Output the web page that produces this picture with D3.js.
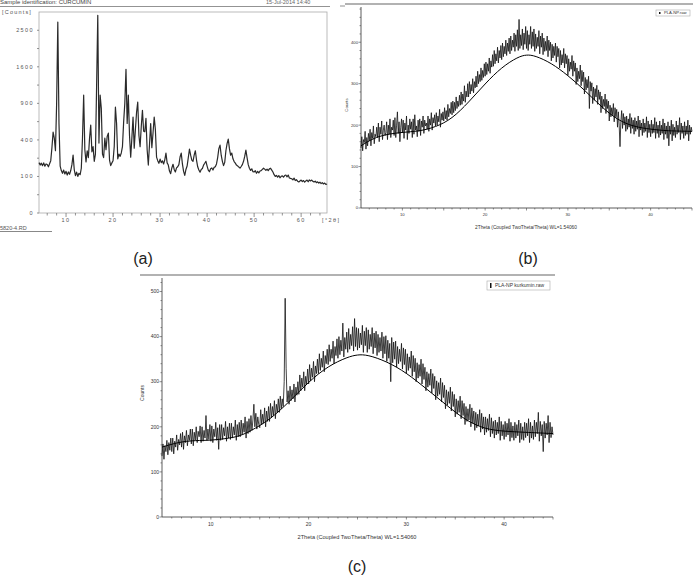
<!DOCTYPE html>
<html>
<head>
<meta charset="utf-8">
<script src="https://cdn.jsdelivr.net/npm/d3@7"></script>
<style>
  body { margin: 0; background: #fff; }
  text { font-family: "Liberation Sans", Arial, sans-serif; }
</style>
</head>
<body>
<script>
// ---- panel (a): curcumin, sqrt counts, step 0.25 deg from 4.25
var curcStart = 4.25, curcStep = 0.25;
var curcCounts = [
  190, 172, 186,
  168, 188, 164, 180,  176, 160, 182, 205,  320, 490, 420, 290,  900, 2730, 600, 165,
  135, 118, 138, 114,  130, 108, 126, 112,  135, 175, 251, 140,  104, 125, 100, 118,
  110, 150, 420, 1040, 300, 195, 290, 230,  420, 578, 280, 330,  200, 260, 1200, 2927,
  366, 1040, 820, 260, 230, 420, 300, 440,  478, 210, 168, 188,  205, 330, 839, 600,
  220, 260, 240, 270,  330, 618, 900, 1547, 600, 1040, 450, 234, 420, 690, 315, 520,
  760, 920, 450, 330,  560, 790, 500, 494,  670, 300, 172, 350,  600, 320, 480, 690,
  520, 234, 205, 185,  218, 190, 204, 180,  212, 269, 188, 172,  132, 116, 152, 178,
  142, 126, 152, 160,  175, 235, 269, 180,  130, 106, 142, 165,  230, 306, 250, 210,
  200, 250, 290, 210,  160, 138, 125, 142,  148, 172, 185, 200,  165, 138, 128, 146,
  152, 138, 156, 160,  180, 230, 310, 345,  250, 200, 168, 192,  290, 360, 409, 310,
  250, 269, 220, 198,  186, 172, 166, 158,  151, 162, 175, 200,  240, 296, 230, 175,
  150, 136, 146, 128,  126, 134, 118, 130,  120, 132, 134, 142,  150, 144, 136, 144,
  134, 146, 150, 138,  126, 110, 100, 106,  96, 105, 93, 101,   103, 96, 105, 108,
  98, 108, 92, 90,     88, 82, 91, 79,     83, 76, 72, 77,     81, 74, 79, 71,
  77, 81, 73, 82,      77, 81, 75, 72,     76, 69, 73, 67,     71, 65, 69, 63,
  67, 61, 63
];
var curcYTicks = [0, 100, 400, 900, 1600, 2500];
var curcYMinor = [25, 225, 625, 1225, 2025];
var curcXTicks = [10, 20, 30, 40, 50, 60];

// ---- panel (b): PLA-NP, step 0.1 deg from 5 (one row per degree)
var plaStart = 5, plaStep = 0.1;
var plaCounts = [
  145,172,138,165,158,185,142,170,150,180,
  162,190,150,182,168,198,155,178,172,195,
  170,205,160,195,178,210,165,188,200,175,
  182,208,165,200,178,215,170,195,188,212,
  175,218,170,200,232,180,208,160,195,215,
  182,212,168,205,188,222,165,200,180,215,
  190,208,170,215,178,225,188,198,172,212,
  185,215,175,210,195,222,180,212,198,205,
  190,222,185,215,200,230,188,218,205,225,
  198,230,200,222,208,238,195,228,212,232,
  210,242,215,235,212,250,220,240,228,255,
  225,258,230,255,235,268,240,258,245,272,
  248,280,250,275,258,295,255,282,268,300,
  268,305,275,298,282,312,278,305,290,318,
  292,330,300,322,305,338,308,332,315,348,
  318,352,322,348,330,362,325,355,340,370,
  342,380,348,372,355,388,350,380,362,392,
  358,398,365,390,372,405,368,398,378,410,
  372,415,380,405,388,422,378,418,390,430,
  380,455,385,418,392,432,382,422,395,438,
  385,428,380,418,395,438,385,425,390,432,
  378,420,385,412,390,428,372,415,388,422,
  370,410,378,402,380,415,365,405,380,400,
  355,395,362,390,368,398,352,390,365,385,
  338,380,345,370,350,385,338,372,348,368,
  320,360,330,352,335,368,318,355,330,350,
  298,338,305,330,312,345,295,332,305,328,
  275,315,285,310,290,318,240,305,282,302,
  252,292,260,288,268,296,250,285,262,280,
  230,270,240,262,245,275,228,262,240,258,
  210,248,220,242,225,252,208,242,220,238,
  195,232,200,148,208,235,192,228,200,220,
  185,222,190,215,195,228,180,218,192,212,
  178,218,185,210,190,222,172,212,188,205,
  175,215,182,205,185,220,170,210,182,202,
  172,212,180,202,182,218,168,208,180,200,
  170,210,176,200,180,215,165,205,178,198,
  168,208,150,198,178,212,162,202,175,195,
  170,210,178,200,182,218,165,205,180,198,
  168,208,175,198,178,212,162,200,178,195,
  185
];
var plaFitX = [5, 7, 10, 12, 14, 16, 18, 20, 22, 24, 25, 26, 28, 30, 32, 34, 36, 38, 40, 42, 45];
var plaFitY = [150, 175, 183, 185, 195, 215, 255, 300, 340, 365, 370, 368, 350, 320, 285, 245, 212, 196, 190, 186, 185];

// ---- panel (c): PLA-NP kurkumin, step 0.1 deg from 5
var kurStart = 5, kurStep = 0.1;
var kurCounts = [
  135,162,128,158,145,170,138,165,148,175,
  145,175,140,168,155,182,148,172,160,185,
  155,188,150,180,165,192,158,182,170,195,
  162,195,158,188,170,200,165,190,178,202,
  165,200,168,192,175,225,170,195,172,205,
  168,202,165,195,178,210,170,198,150,205,
  170,205,172,198,180,212,168,200,175,208,
  172,208,175,200,182,215,170,205,178,210,
  178,215,182,208,188,222,175,212,185,218,
  188,225,192,215,250,200,230,195,222,205,
  198,238,205,228,208,242,200,235,212,245,
  212,252,220,245,225,258,218,250,232,262,
  232,268,240,262,245,300,485,330,255,280,
  250,290,258,282,262,295,255,288,270,300,
  272,315,280,308,288,322,280,312,295,328,
  295,338,302,330,310,345,300,335,318,350,
  318,362,325,352,332,368,322,358,340,372,
  338,382,345,372,352,390,340,378,358,395,
  352,400,360,392,368,430,355,398,372,410,
  365,418,372,405,380,422,368,440,378,420,
  370,418,375,408,382,425,365,412,380,420,
  365,415,372,405,378,420,362,408,375,412,
  358,405,365,398,368,410,352,400,362,402,
  345,392,352,385,300,398,342,388,350,390,
  332,378,340,372,345,385,328,375,338,372,
  318,362,325,355,330,368,312,358,322,352,
  300,342,308,338,312,350,295,340,305,332,
  280,322,288,318,292,328,275,318,285,312,
  260,302,268,298,272,308,255,298,265,292,
  240,282,248,278,252,288,235,278,245,272,
  222,262,228,258,232,268,218,258,225,252,
  205,245,212,240,215,250,200,242,208,235,
  192,232,198,228,202,238,188,230,195,222,
  182,222,188,218,192,228,178,220,185,212,
  175,215,182,210,185,222,170,212,180,205,
  172,212,178,208,182,218,168,210,176,202,
  170,210,175,205,180,215,165,208,172,200,
  170,210,176,208,180,218,165,210,175,202,
  172,215,178,210,185,232,168,212,180,205,
  145,212,175,208,182,225,165,210,176,200,
  182
];
var kurFitX = [5, 7, 9, 10, 12, 13, 14, 16, 18, 20, 22, 24, 25, 26, 28, 30, 32, 34, 36, 38, 40, 42, 45];
var kurFitY = [155, 168, 170, 170, 175, 180, 190, 215, 255, 300, 335, 355, 360, 360, 345, 320, 285, 250, 215, 195, 190, 188, 185];

var svg = d3.select("body").append("svg")
    .attr("width", 693)
    .attr("height", 576);

function toPoints(start, step, vals) {
  return vals.map(function(v, i) { return [start + i * step, v]; });
}

// ================= panel (a) =================
(function() {
  var x = d3.scaleLinear().domain([4.25, 65.5]).range([39, 327]);
  var y = d3.scaleSqrt().domain([0, 3025]).range([213, 12]);
  var g = svg.append("g");

  g.append("text").attr("x", 0).attr("y", 4).attr("font-size", 6).attr("fill", "#444")
    .text("Sample identification: CURCUMIN");
  g.append("text").attr("x", 266).attr("y", 4).attr("font-size", 5.5).attr("fill", "#666")
    .text("15-Jul-2014 14:40");
  g.append("line").attr("x1", 0).attr("x2", 330).attr("y1", 6.5).attr("y2", 6.5)
    .attr("stroke", "#777").attr("stroke-width", 0.8);
  g.append("line").attr("x1", 340).attr("x2", 345).attr("y1", 6).attr("y2", 6)
    .attr("stroke", "#777").attr("stroke-width", 0.8);
  g.append("text").attr("x", 2).attr("y", 14).attr("font-size", 5.5).attr("fill", "#555")
    .attr("letter-spacing", 1.2).text("[Counts]");

  g.append("rect").attr("x", 39).attr("y", 12).attr("width", 288).attr("height", 201)
    .attr("fill", "none").attr("stroke", "#aaa").attr("stroke-width", 0.8);

  g.selectAll(".ytl").data(curcYTicks).enter().append("text")
    .attr("x", 34).attr("y", function(d) { return y(d) + 2; })
    .attr("text-anchor", "end").attr("font-size", 5.5).attr("fill", "#555")
    .attr("letter-spacing", 1.4)
    .text(function(d) { return d; });
  g.selectAll(".ytk").data(curcYTicks.concat(curcYMinor)).enter().append("line")
    .attr("x1", 37).attr("x2", 39)
    .attr("y1", function(d) { return y(d); }).attr("y2", function(d) { return y(d); })
    .attr("stroke", "#666").attr("stroke-width", 0.7);

  var xMinor = d3.range(6, 66, 2);
  g.selectAll(".xtk").data(xMinor).enter().append("line")
    .attr("x1", function(d) { return x(d); }).attr("x2", function(d) { return x(d); })
    .attr("y1", 213).attr("y2", function(d) { return d % 10 === 0 ? 217 : 215.5; })
    .attr("stroke", "#666").attr("stroke-width", 0.7);
  g.selectAll(".xtl").data(curcXTicks).enter().append("text")
    .attr("x", function(d) { return x(d); }).attr("y", 222)
    .attr("text-anchor", "middle").attr("font-size", 5.5).attr("fill", "#555")
    .attr("letter-spacing", 1.4)
    .text(function(d) { return d; });
  g.append("text").attr("x", 322).attr("y", 222).attr("font-size", 5.5).attr("fill", "#555")
    .attr("letter-spacing", 1.4).text("[°2θ]");

  g.append("path")
    .datum(toPoints(curcStart, curcStep, curcCounts))
    .attr("fill", "none").attr("stroke", "#2a2a2a").attr("stroke-width", 1.2)
    .attr("stroke-linejoin", "round")
    .attr("d", d3.line().x(function(d) { return x(d[0]); }).y(function(d) { return y(d[1]); }));

  g.append("text").attr("x", 0).attr("y", 230).attr("font-size", 5.5).attr("fill", "#555")
    .text("5820-4.RD");
  g.append("line").attr("x1", 0).attr("x2", 52).attr("y1", 231.5).attr("y2", 231.5)
    .attr("stroke", "#555").attr("stroke-width", 0.7);
})();

// ================= panels (b) and (c) =================
function drawBruker(o) {
  var x = d3.scaleLinear().domain([5, 45]).range([o.left, o.right]);
  var y = d3.scaleLinear().domain([0, o.yMax]).range([o.bottom, o.top]);
  var g = svg.append("g");
  var fs = o.fs;

  g.append("line").attr("x1", o.lineX1).attr("x2", o.lineX2)
    .attr("y1", o.lineY).attr("y2", o.lineY)
    .attr("stroke", "#999").attr("stroke-width", 1.5);

  // axes
  g.append("line").attr("x1", o.left).attr("x2", o.left).attr("y1", o.top).attr("y2", o.bottom)
    .attr("stroke", "#333").attr("stroke-width", 0.8);
  g.append("line").attr("x1", o.left).attr("x2", o.right).attr("y1", o.bottom).attr("y2", o.bottom)
    .attr("stroke", "#333").attr("stroke-width", 0.8);

  var yMinor = d3.range(0, o.yMax, 20);
  g.selectAll(".ytk").data(yMinor).enter().append("line")
    .attr("x1", function(d) { return d % 100 === 0 ? o.left - 2.5 : o.left - 1.5; })
    .attr("x2", o.left)
    .attr("y1", function(d) { return y(d); }).attr("y2", function(d) { return y(d); })
    .attr("stroke", "#444").attr("stroke-width", 0.6);
  g.selectAll(".ytl").data(d3.range(0, o.yMax, 100)).enter().append("text")
    .attr("x", o.left - 3).attr("y", function(d) { return y(d) + fs * 0.35; })
    .attr("text-anchor", "end").attr("font-size", fs).attr("fill", "#333")
    .text(function(d) { return d; });

  var xMinor = d3.range(6, 46, 1);
  g.selectAll(".xtk").data(xMinor).enter().append("line")
    .attr("x1", function(d) { return x(d); }).attr("x2", function(d) { return x(d); })
    .attr("y1", o.bottom)
    .attr("y2", function(d) { return o.bottom + (d % 5 === 0 ? 2.5 : 1.5); })
    .attr("stroke", "#444").attr("stroke-width", 0.6);
  g.selectAll(".xtl").data([10, 20, 30, 40]).enter().append("text")
    .attr("x", function(d) { return x(d); }).attr("y", o.bottom + 4 + fs)
    .attr("text-anchor", "middle").attr("font-size", fs).attr("fill", "#333")
    .text(function(d) { return d; });

  g.append("text")
    .attr("transform", "translate(" + o.ylabX + "," + o.ylabY + ") rotate(-90)")
    .attr("text-anchor", "middle").attr("font-size", fs).attr("fill", "#333")
    .text("Counts");
  g.append("text").attr("x", o.xlabX).attr("y", o.xlabY)
    .attr("text-anchor", "middle").attr("font-size", fs + 0.6).attr("fill", "#333")
    .text(o.xlab);

  // legend
  g.append("rect").attr("x", o.leg[0]).attr("y", o.leg[1]).attr("width", o.leg[2]).attr("height", o.leg[3])
    .attr("fill", "#fff").attr("stroke", "#aaa").attr("stroke-width", 0.6);
  g.append("rect").attr("x", o.leg[0] + 3).attr("y", o.leg[1] + 2).attr("width", 1.5).attr("height", o.leg[3] - 4)
    .attr("fill", "#111");
  g.append("text").attr("x", o.leg[0] + 8).attr("y", o.leg[1] + o.leg[3] / 2 + fs * 0.35)
    .attr("font-size", fs).attr("fill", "#333").text(o.legText);

  var line = d3.line().x(function(d) { return x(d[0]); }).y(function(d) { return y(d[1]); });
  g.append("path")
    .datum(toPoints(o.start, o.step, o.counts))
    .attr("fill", "none").attr("stroke", "#111").attr("stroke-width", 0.8)
    .attr("d", line);
  g.append("path")
    .datum(o.fitX.map(function(v, i) { return [v, o.fitY[i]]; }))
    .attr("fill", "none").attr("stroke", "#000").attr("stroke-width", 1)
    .attr("d", line.curve(d3.curveBasis));
}

drawBruker({
  left: 361, right: 692, top: 7, bottom: 208, yMax: 485, fs: 4.2,
  lineX1: 345, lineX2: 693, lineY: 4,
  ylabX: 348, ylabY: 105, xlabX: 526, xlabY: 229,
  xlab: "2Theta (Coupled TwoTheta/Theta) WL=1.54060",
  leg: [656, 10, 34, 6], legText: "PLA-NP.raw",
  start: plaStart, step: plaStep, counts: plaCounts, fitX: plaFitX, fitY: plaFitY
});

drawBruker({
  left: 162, right: 553, top: 278, bottom: 517, yMax: 530, fs: 5,
  lineX1: 140, lineX2: 555, lineY: 275,
  ylabX: 144, ylabY: 393, xlabX: 357, xlabY: 539,
  xlab: "2Theta (Coupled TwoTheta/Theta) WL=1.54060",
  leg: [487, 281, 63, 9], legText: "PLA-NP kurkumin.raw",
  start: kurStart, step: kurStep, counts: kurCounts, fitX: kurFitX, fitY: kurFitY
});

// captions
var captions = [["(a)", 143, 264], ["(b)", 528, 264], ["(c)", 357, 572]];
svg.selectAll(".cap").data(captions).enter().append("text")
  .attr("x", function(d) { return d[1]; }).attr("y", function(d) { return d[2]; })
  .attr("text-anchor", "middle").attr("font-size", 16).attr("fill", "#222")
  .text(function(d) { return d[0]; });
</script>
</body>
</html>
